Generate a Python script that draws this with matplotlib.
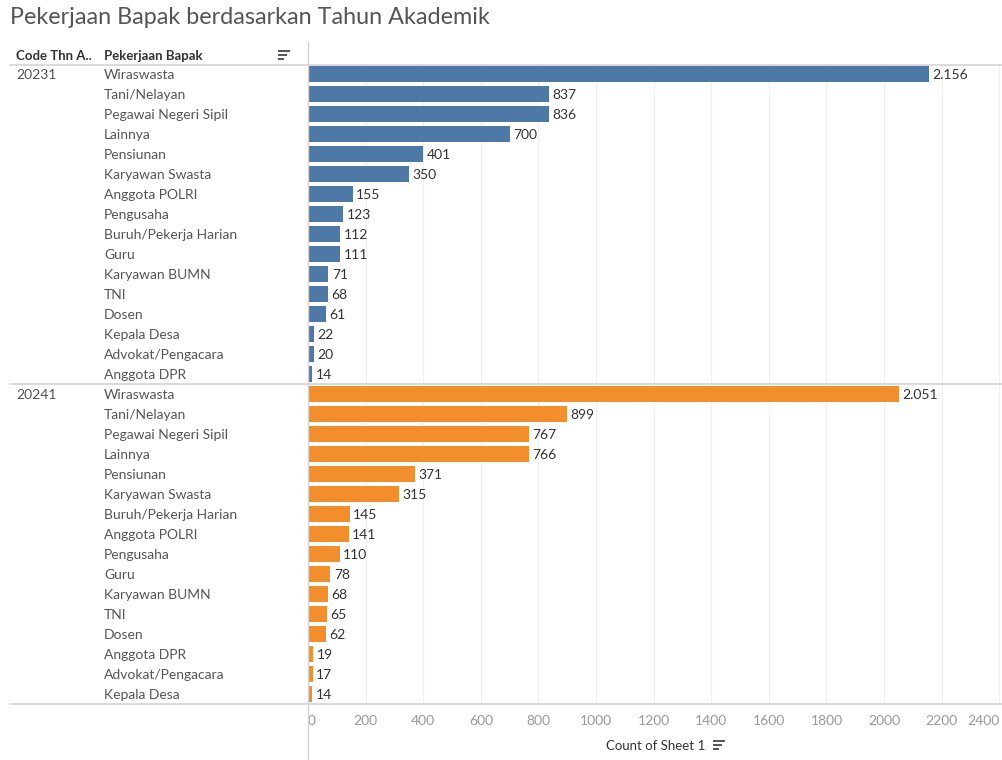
import matplotlib
matplotlib.use("Agg")
import matplotlib.pyplot as plt
from matplotlib.transforms import blended_transform_factory
from matplotlib.lines import Line2D

plt.rcParams['font.family'] = ['Lato', 'DejaVu Sans']

years = ["20231", "20241"]
jobs_2023 = ["Wiraswasta", "Tani/Nelayan", "Pegawai Negeri Sipil", "Lainnya", "Pensiunan",
             "Karyawan Swasta", "Anggota POLRI", "Pengusaha", "Buruh/Pekerja Harian", "Guru",
             "Karyawan BUMN", "TNI", "Dosen", "Kepala Desa", "Advokat/Pengacara", "Anggota DPR"]
counts_2023 = [2156, 837, 836, 700, 401, 350, 155, 123, 112, 111, 71, 68, 61, 22, 20, 14]
jobs_2024 = ["Wiraswasta", "Tani/Nelayan", "Pegawai Negeri Sipil", "Lainnya", "Pensiunan",
             "Karyawan Swasta", "Buruh/Pekerja Harian", "Anggota POLRI", "Pengusaha", "Guru",
             "Karyawan BUMN", "TNI", "Dosen", "Anggota DPR", "Advokat/Pengacara", "Kepala Desa"]
counts_2024 = [2051, 899, 767, 766, 371, 315, 145, 141, 110, 78, 68, 65, 62, 19, 17, 14]
xticks = [0, 200, 400, 600, 800, 1000, 1200, 1400, 1600, 1800, 2000, 2200, 2400]
colors = ["#4e79a7", "#f28e2b"]

W, H = 1003, 760
fig = plt.figure(figsize=(W / 100, H / 100), dpi=100)
ax_left, ax_right = 308 / W, 1003 / W
ax_top, ax_bot = 1 - 64 / H, 1 - 704 / H
ax = fig.add_axes([ax_left, ax_bot, ax_right - ax_left, ax_top - ax_bot])

groups = [(years[0], jobs_2023, counts_2023, colors[0]),
          (years[1], jobs_2024, counts_2024, colors[1])]

trans = blended_transform_factory(fig.transFigure, ax.transData)
label_color = "#555555"
fs = 10
y = 0
for yr, jobs, counts, col in groups:
    ys = list(range(y, y + len(jobs)))
    ax.barh(ys, counts, height=0.76, color=col, zorder=3)
    for yy, c in zip(ys, counts):
        ax.text(c + 12, yy + 0.04, f"{c:,}".replace(",", "."), va="center", ha="left",
                fontsize=fs, color="#333333", zorder=4)
    for yy, j in zip(ys, jobs):
        ax.text(104 / W, yy + 0.04, j, transform=trans, fontsize=fs, color=label_color,
                va="center", ha="left", clip_on=False)
    ax.text(16 / W, ys[0] + 0.04, yr, transform=trans, fontsize=fs, color=label_color,
            va="center", ha="left", clip_on=False)
    y += len(jobs)

n = y
ax.set_ylim(n - 0.5, -0.5)
ax.set_xlim(0, 2413)
ax.set_yticks([])
ax.set_xticks(xticks)
ax.set_xticklabels([str(t) for t in xticks], fontsize=fs, color="#999999")
ax.tick_params(axis="x", length=0, pad=8)
tls = ax.get_xticklabels()
tls[0].set_horizontalalignment("left")
tls[-1].set_horizontalalignment("right")
for s in ax.spines.values():
    s.set_visible(False)
ax.grid(axis="x", color="#efefef", linewidth=0.8, zorder=0)

# lines (header, separator, bottom, left divider)
line_col = "#d4d4d4"
for py in [65, 384, 704]:
    fig.add_artist(Line2D([10 / W, 1.0], [1 - py / H, 1 - py / H], color=line_col, linewidth=1.2))
fig.add_artist(Line2D([308 / W, 308 / W], [1 - 42 / H, 0], color=line_col, linewidth=1.0))

# title
fig.text(10 / W, 1 - 18 / H, "Pekerjaan Bapak berdasarkan Tahun Akademik", fontsize=16.8,
         fontweight="normal", color="#555555", va="center", ha="left")

# headers
fig.text(16 / W, 1 - 56 / H, "Code Thn A..", fontsize=9.5, fontweight="bold", color="#333333",
         va="center", ha="left")
fig.text(104 / W, 1 - 56 / H, "Pekerjaan Bapak", fontsize=9.5, fontweight="bold", color="#333333",
         va="center", ha="left")

def sort_icon(x0, yc):
    widths = [10, 7, 4]
    for i, w in enumerate(widths):
        py = yc - 4 + i * 4
        fig.add_artist(Line2D([x0 / W, (x0 + w) / W], [1 - py / H, 1 - py / H],
                              color="#555555", linewidth=1.4))

sort_icon(279, 55)

# x-axis title
fig.text(656 / W, 1 - 746 / H, "Count of Sheet 1", fontsize=9.5, color="#333333",
         va="center", ha="center")
sort_icon(714, 745)

fig.savefig("out.png", dpi=100)
